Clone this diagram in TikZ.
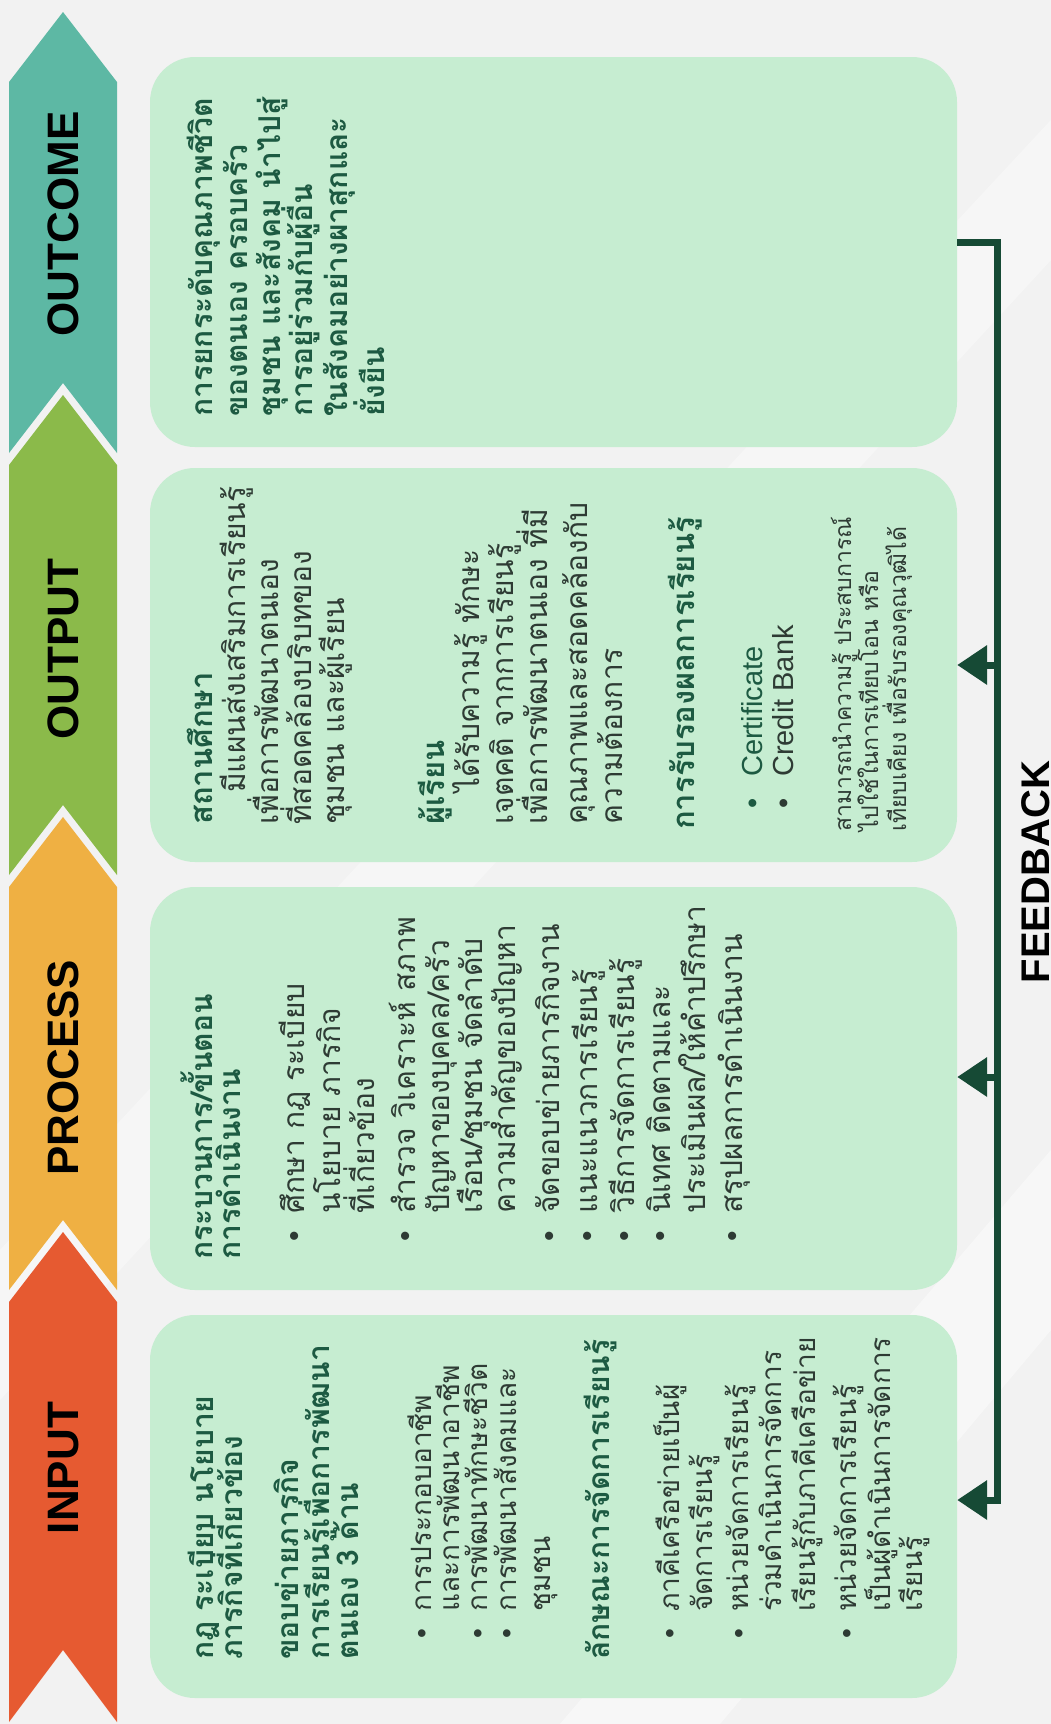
\documentclass[tikz,border=0pt]{standalone}
\usepackage{fontspec}
\setmainfont{Liberation Sans}
\newfontfamily\thai[Script=Thai]{Loma}
\newfontfamily\lat{Liberation Sans}
\usetikzlibrary{arrows.meta}
\definecolor{bgcol}{HTML}{F2F2F2}
\definecolor{boxcol}{HTML}{C6EDD1}
\definecolor{hdcol}{HTML}{1D5A42}
\definecolor{bdcol}{HTML}{2E3B34}
\definecolor{fbcol}{HTML}{164A35}
\definecolor{occol}{HTML}{5DB8A4}
\definecolor{opcol}{HTML}{8BBA4A}
\definecolor{prcol}{HTML}{EFB043}
\definecolor{incol}{HTML}{E65A31}
\newcommand\bul[1][17pt]{\llap{{\lat\textbullet}\hspace{#1}}}
\begin{document}
\begin{tikzpicture}[x=1pt,y=-1pt,
  box/.style={draw=none,fill=boxcol,rounded corners=45pt,minimum width=807pt,inner sep=0pt},
  lbl/.style={rotate=90,anchor=base,inner sep=0pt,text=black,font=\lat\bfseries\fontsize{44}{44}\selectfont},
  txt/.style={rotate=90,anchor=base west,inner sep=0pt},
  hd/.style={txt,text=hdcol,font=\thai\bfseries\fontsize{30}{34}\selectfont},
  hdl/.style={txt,text=hdcol,font=\thai\bfseries\fontsize{31}{35}\selectfont},
  bd/.style={txt,text=bdcol,font=\thai\fontsize{28}{32}\selectfont},
  bdl/.style={txt,text=bdcol,font=\thai\fontsize{30}{34}\selectfont},
  sm/.style={txt,text=bdcol,font=\thai\fontsize{23}{26}\selectfont},
  en/.style={txt,text=bdcol,font=\lat\fontsize{29}{32}\selectfont},
  fbline/.style={draw=fbcol,line width=7pt,line cap=butt,line join=miter},
  fbarrow/.style={fbline,-{Triangle[length=30pt,width=38pt]}}]
\useasboundingbox (0,0) rectangle (1051,1724);
\fill[bgcol] (0,0) rectangle (1051,1724);
\fill[white,opacity=0.45] (560,1724) -- (1051,1150) -- (1051,1330) -- (720,1724) -- cycle;
\fill[white,opacity=0.35] (0,1250) -- (1051,120) -- (1051,260) -- (0,1400) -- cycle;

% chevron band
\fill[occol] (9,82) -- (63,12) -- (117,82) -- (117,453) -- (63,383) -- (9,453) -- cycle;
\fill[opcol] (9,465) -- (63,395) -- (117,465) -- (117,875) -- (63,805) -- (9,875) -- cycle;
\fill[prcol] (9,887) -- (63,817) -- (117,887) -- (117,1290) -- (63,1220) -- (9,1290) -- cycle;
\fill[incol] (9,1302) -- (63,1232) -- (117,1302) -- (117,1722) -- (63,1650) -- (9,1722) -- cycle;
\node[lbl] (locm) at (78,224) {OUTCOME};
\node[lbl] (lopt) at (78,649) {OUTPUT};
\node[lbl] (lprc) at (78,1068) {PROCESS};
\node[lbl] (linp) at (78,1468) {INPUT};

% content boxes
\node[box,minimum height=390pt] (ocbox) at (553.5,252) {};
\node[box,minimum height=394pt] (opbox) at (553.5,665) {};
\node[box,minimum height=403pt] (prbox) at (553.5,1088.5) {};
\node[box,minimum height=383pt] (inbox) at (553.5,1506.5) {};

% INPUT
\node[hd] (ih1) at (213,1660) {กฎ ระเบียบ นโยบาย};
\node[hd] (ih2) at (242,1660) {ภารกิจที่เกี่ยวข้อง};
\node[hd] (ih3) at (298,1660) {ขอบข่ายภารกิจ};
\node[hd] (ih4) at (329,1660) {การเรียนรู้เพื่อการพัฒนา};
\node[hd] (ih5) at (358,1660) {ตนเอง 3 ด้าน};
\node[bd] (ib1) at (431,1612) {\bul การประกอบอาชีพ};
\node[bd] (ib2) at (459,1612) {และการพัฒนาอาชีพ};
\node[bd] (ib3) at (487,1612) {\bul การพัฒนาทักษะชีวิต};
\node[bd] (ib4) at (516,1612) {\bul การพัฒนาสังคมและ};
\node[bd] (ib5) at (550,1612) {ชุมชน};
\node[hd] (ih6) at (609,1660) {ลักษณะการจัดการเรียนรู้};
\node[bd] (ic1) at (679,1612) {\bul ภาคีเครือข่ายเป็นผู้};
\node[bd] (ic2) at (712,1612) {จัดการเรียนรู้};
\node[bd] (ic3) at (748,1612) {\bul หน่วยจัดการเรียนรู้};
\node[bd] (ic4) at (781,1612) {ร่วมดำเนินการจัดการ};
\node[bd] (ic5) at (815,1612) {เรียนรู้กับภาคีเครือข่าย};
\node[bd] (ic6) at (856,1612) {\bul หน่วยจัดการเรียนรู้};
\node[bd] (ic7) at (890,1612) {เป็นผู้ดำเนินการจัดการ};
\node[bd] (ic8) at (922,1612) {เรียนรู้};

% PROCESS
\node[hd] (ph1) at (212,1260) {กระบวนการ/ขั้นตอน};
\node[hd] (ph2) at (240,1260) {การดำเนินงาน};
\node[bdl] (pb1) at (304,1214) {\bul ศึกษา กฎ ระเบียบ};
\node[bdl] (pb2) at (340,1214) {นโยบาย ภารกิจ};
\node[bdl] (pb3) at (374,1214) {ที่เกี่ยวข้อง};
\node[bdl] (pb4) at (415,1214) {\bul สำรวจ วิเคราะห์ สภาพ};
\node[bdl] (pb5) at (449,1214) {ปัญหาของบุคคล/ครัว};
\node[bdl] (pb6) at (482,1214) {เรือน/ชุมชน จัดลำดับ};
\node[bdl] (pb7) at (515,1214) {ความสำคัญของปัญหา};
\node[bdl] (pb8) at (559,1214) {\bul จัดขอบข่ายภารกิจงาน};
\node[bdl] (pb9) at (597,1214) {\bul แนะแนวการเรียนรู้};
\node[bdl] (pb10) at (634,1214) {\bul วิธีการจัดการเรียนรู้};
\node[bdl] (pb11) at (670,1214) {\bul นิเทศ ติดตามและ};
\node[bdl] (pb12) at (705,1214) {ประเมินผล/ให้คำปรึกษา};
\node[bdl] (pb13) at (742,1214) {\bul สรุปผลการดำเนินงาน};

% OUTPUT
\node[hdl] (oh1) at (212,825) {สถานศึกษา};
\node[bdl] (oa1) at (245,793) {มีแผนส่งเสริมการเรียนรู้};
\node[bdl] (oa2) at (278,825) {เพื่อการพัฒนาตนเอง};
\node[bdl] (oa3) at (311,825) {ที่สอดคล้องบริบทของ};
\node[bdl] (oa4) at (344,825) {ชุมชน และผู้เรียน};
\node[hdl] (oh2) at (444,825) {ผู้เรียน};
\node[bdl] (ob1) at (479,793) {ได้รับความรู้ ทักษะ};
\node[bdl] (ob2) at (513,825) {เจตคติ จากการเรียนรู้};
\node[bdl] (ob3) at (547,825) {เพื่อการพัฒนาตนเอง ที่มี};
\node[bdl] (ob4) at (587,825) {คุณภาพและสอดคล้องกับ};
\node[bdl] (ob5) at (622,825) {ความต้องการ};
\node[hdl] (oh3) at (694,830) {การรับรองผลการเรียนรู้};
\node[en,text=hdcol] (oc1) at (762,777) {\bul[22pt]Certificate};
\node[en] (oc2) at (793,777) {\bul[22pt]Credit Bank};
\node[sm] (od1) at (851,832) {สามารถนำความรู้ ประสบการณ์};
\node[sm] (od2) at (878,832) {ไปใช้ในการเทียบโอน หรือ};
\node[sm] (od3) at (906,832) {เทียบเคียง เพื่อรับรองคุณวุฒิได้};

% OUTCOME
\node[hd] (u1) at (212,417) {การยกระดับคุณภาพชีวิต};
\node[hd] (u2) at (247,417) {ของตนเอง ครอบครัว};
\node[hd] (u3) at (280,417) {ชุมชน และสังคม นำไปสู่};
\node[hd] (u4) at (312,417) {การอยู่ร่วมกับผู้อื่น};
\node[hd] (u5) at (347,417) {ในสังคมอย่างผาสุกและ};
\node[hd] (u6) at (384,417) {ยั่งยืน};

% feedback loop
\coordinate (fbtop) at (997,242);
\coordinate (fbop) at (997,665);
\coordinate (fbpr) at (997,1077);
\coordinate (fbbot) at (997,1500);
\draw[fbarrow] (ocbox.east |- fbtop) -- (fbtop) -- (fbbot) -- (inbox.east |- fbbot);
\draw[fbarrow] (fbop) -- (opbox.east |- fbop);
\draw[fbarrow] (fbpr) -- (prbox.east |- fbpr);
\node[lbl,font=\lat\bfseries\fontsize{40}{40}\selectfont] (fbl) at (1049,872) {FEEDBACK};
\end{tikzpicture}
\end{document}
